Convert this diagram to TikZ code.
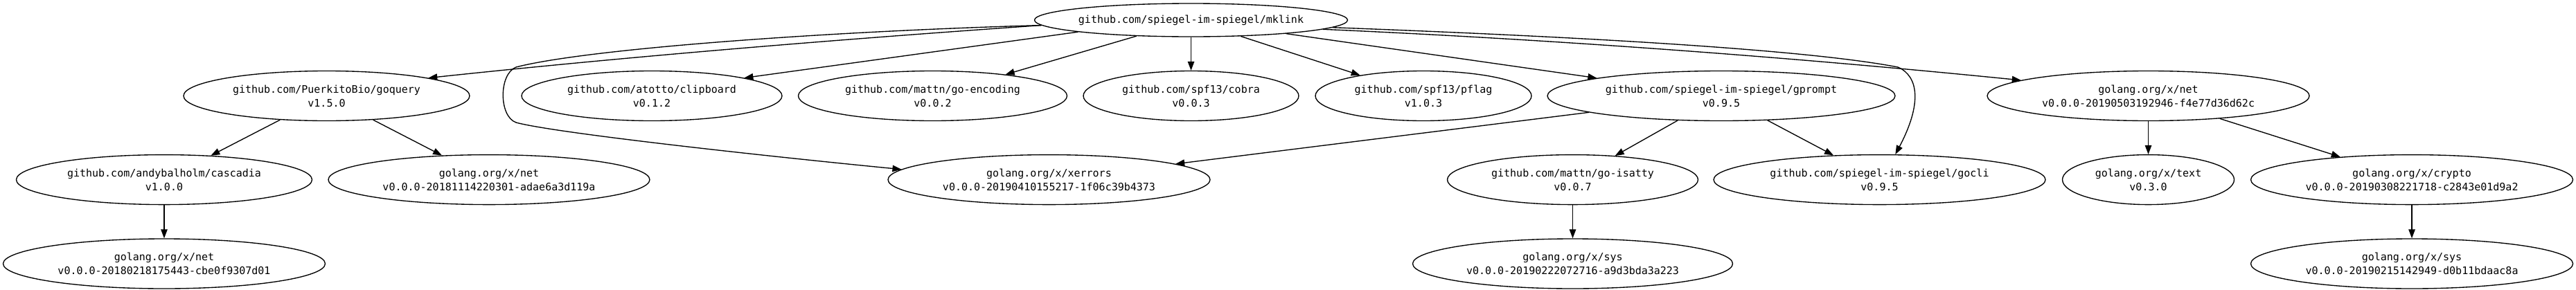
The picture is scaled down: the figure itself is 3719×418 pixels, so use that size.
\documentclass[tikz,border=0pt]{standalone}
\usepackage{fontspec}
\setmonofont{DejaVu Sans Mono}
\usetikzlibrary{shapes.geometric, arrows.meta}

\begin{document}
\begin{tikzpicture}[
    x=1pt, y=-1pt,
    pkg/.style={ellipse, draw, line width=1.35pt, inner sep=0pt,
        minimum height=72pt, align=center,
        font=\fontsize{15}{20}\selectfont\ttfamily},
    root/.style={pkg, minimum height=48pt, inner xsep=-4pt},
    arr/.style={-{Triangle[length=13pt, width=9.5pt]}, line width=1.35pt}
]
\useasboundingbox (0,0) rectangle (3719,418);

% Root module
\node[root, minimum width=452pt] (mklink) at (1719.5, 29) {github.com/spiegel-im-spiegel/mklink};

% Direct dependencies (second row)
\node[pkg, minimum width=413pt] (goquery) at (471.5, 138.5) {github.com/PuerkitoBio/goquery\\v1.5.0};
\node[pkg, minimum width=376pt] (clipboard) at (941, 138.5) {github.com/atotto/clipboard\\v0.1.2};
\node[pkg, minimum width=388pt] (encoding) at (1346.5, 138.5) {github.com/mattn/go-encoding\\v0.0.2};
\node[pkg, minimum width=311pt] (cobra) at (1719.5, 138.5) {github.com/spf13/cobra\\v0.0.3};
\node[pkg, minimum width=312pt] (pflag) at (2055, 138.5) {github.com/spf13/pflag\\v1.0.3};
\node[pkg, minimum width=502pt] (gprompt) at (2485, 138.5) {github.com/spiegel-im-spiegel/gprompt\\v0.9.5};
\node[pkg, minimum width=465pt] (net0503) at (3101.5, 138.5) {golang.org/x/net\\v0.0.0-20190503192946-f4e77d36d62c};

% Third row
\node[pkg, minimum width=427pt] (cascadia) at (237, 259.6) {github.com/andybalholm/cascadia\\v1.0.0};
\node[pkg, minimum width=464pt] (net1114) at (706, 259.6) {golang.org/x/net\\v0.0.0-20181114220301-adae6a3d119a};
\node[pkg, minimum width=465pt] (xerrors) at (1514.5, 259.6) {golang.org/x/xerrors\\v0.0.0-20190410155217-1f06c39b4373};
\node[pkg, minimum width=362pt] (isatty) at (2270.5, 259.6) {github.com/mattn/go-isatty\\v0.0.7};
\node[pkg, minimum width=479pt] (gocli) at (2713.5, 259.6) {github.com/spiegel-im-spiegel/gocli\\v0.9.5};
\node[pkg, minimum width=248pt] (text) at (3101.5, 259.6) {golang.org/x/text\\v0.3.0};
\node[pkg, minimum width=465pt] (crypto) at (3482, 259.6) {golang.org/x/crypto\\v0.0.0-20190308221718-c2843e01d9a2};

% Bottom row
\node[pkg, minimum width=465pt] (net0218) at (237, 381) {golang.org/x/net\\v0.0.0-20180218175443-cbe0f9307d01};
\node[pkg, minimum width=462pt] (sys0222) at (2270.5, 381) {golang.org/x/sys\\v0.0.0-20190222072716-a9d3bda3a223};
\node[pkg, minimum width=465pt] (sys0215) at (3482, 381) {golang.org/x/sys\\v0.0.0-20190215142949-d0b11bdaac8a};

% mklink -> direct dependencies
\draw[arr] (mklink.182) .. controls (1210,57) and (915,81) .. (goquery.10);
\draw[arr] (mklink.182) .. controls (1200,45) and (850,70) .. (745,97)
    .. controls (720,107) and (720,168) .. (745,177)
    .. controls (800,192) and (1100,225) .. (xerrors.176);
\draw[arr] (mklink.186) -- (clipboard.11);
\draw[arr] (mklink) -- (encoding);
\draw[arr] (mklink) -- (cobra);
\draw[arr] (mklink) -- (pflag);
\draw[arr] (mklink) -- (gprompt);
\draw[arr] (mklink.357) .. controls (2250,52) and (2600,70) .. (2740,97)
    .. controls (2770,110) and (2775,150) .. (gocli.58);
\draw[arr] (mklink.356) .. controls (2240,57) and (2580,82) .. (net0503.173);

% goquery
\draw[arr] (goquery) -- (cascadia);
\draw[arr] (goquery) -- (net1114);
\draw[arr] (cascadia) -- (net0218);

% gprompt
\draw[arr] (gprompt) -- (xerrors);
\draw[arr] (gprompt) -- (isatty);
\draw[arr] (gprompt) -- (gocli);
\draw[arr] (isatty) -- (sys0222);

% golang.org/x/net
\draw[arr] (net0503) -- (text);
\draw[arr] (net0503) -- (crypto);
\draw[arr] (crypto) -- (sys0215);

\end{tikzpicture}
\end{document}
